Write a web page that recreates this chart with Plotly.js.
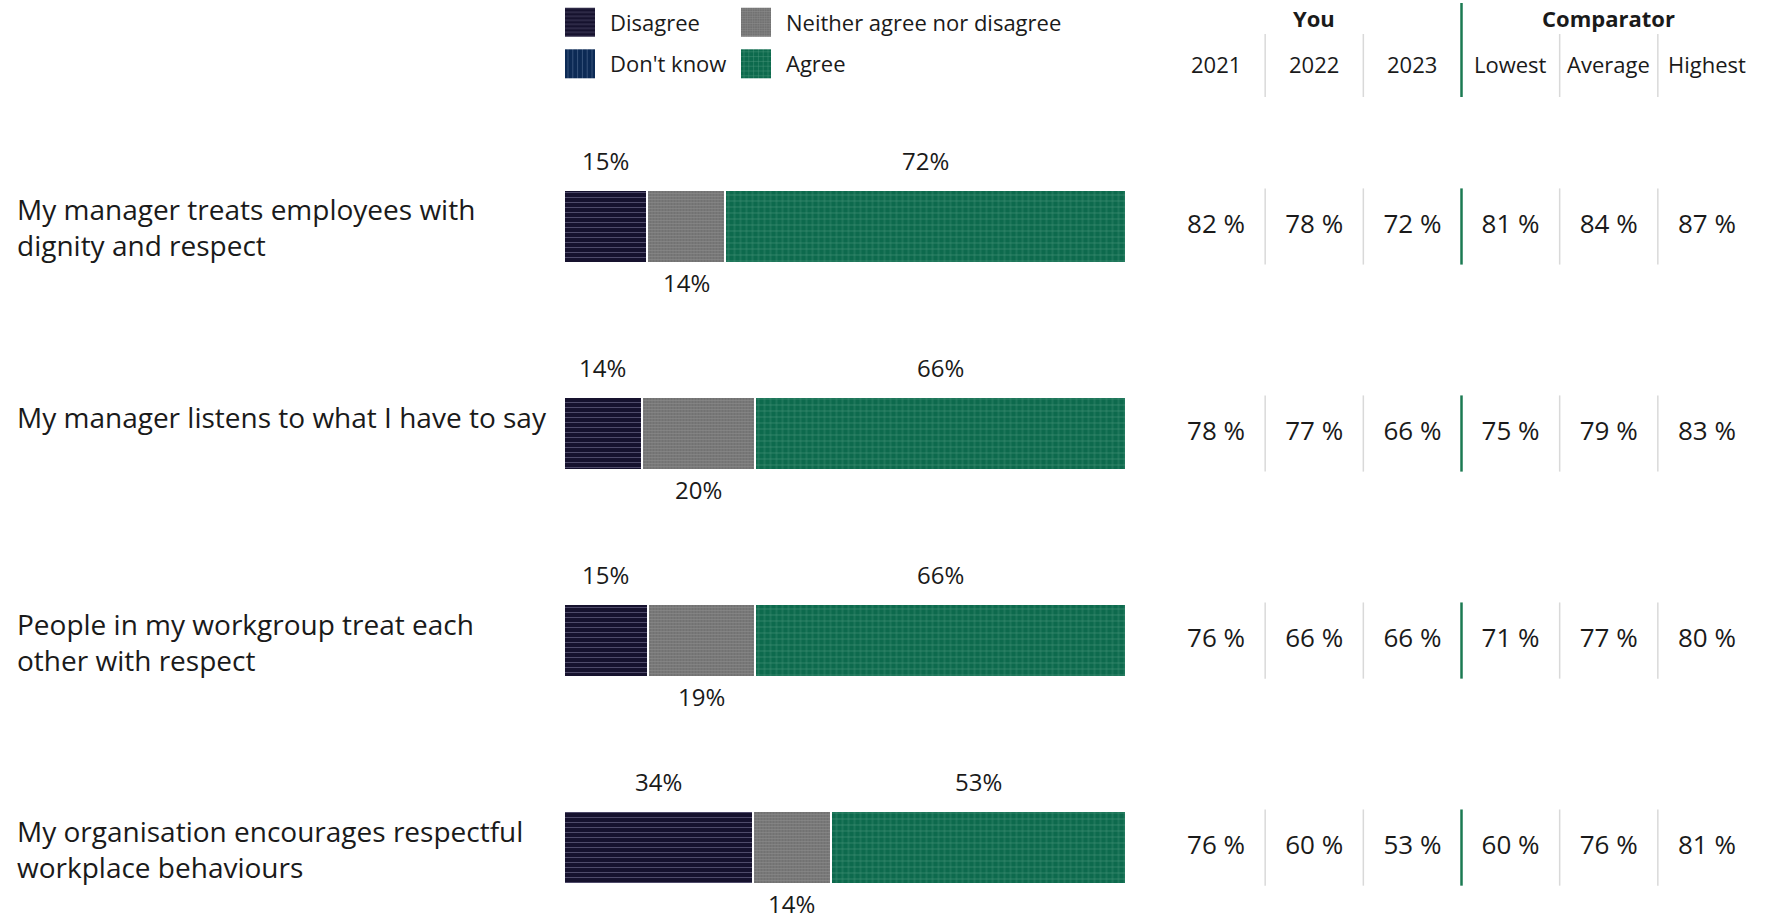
<!DOCTYPE html>
<html><head><meta charset="utf-8">
<script src="https://cdn.plot.ly/plotly-3.0.1.min.js"></script>
<style>html,body{margin:0;padding:0;background:#fff}</style>
</head><body><div id="chart" style="width:1767px;height:919px"></div>
<script>
// ---- data ----
const questions = [
  "My manager treats employees with<br>dignity and respect",
  "My manager listens to what I have to say",
  "People in my workgroup treat each<br>other with respect",
  "My organisation encourages respectful<br>workplace behaviours"
];
const disagree = [15, 14, 15, 34];
const neither  = [14, 20, 19, 14];
const dontKnow = [0, 0, 0, 0];
const agree    = [72, 66, 66, 53];

const columns = ["2021", "2022", "2023", "Lowest", "Average", "Highest"];
const groupHeaders = ["You", "Comparator"];
const groupCenters = ["2022", "Average"];
const y2021   = [82, 78, 76, 76];
const y2022   = [78, 77, 66, 60];
const y2023   = [72, 66, 66, 53];
const lowest  = [81, 75, 71, 60];
const average = [84, 79, 77, 76];
const highest = [87, 83, 80, 81];

// ---- styles ----
const FONT = "Open Sans, sans-serif";
const TXT = "#1a1a1a";
const W = 1767, H = 919;
const BARW = 0.353;

const series = [
  {name: "Disagree", values: disagree, bg: "#16122e", fg: "#8884a6", shape: "-", size: 5, sol: 0.2, legend: "legend", side: "above", lx: 550, ly: 22.5},
  {name: "Neither agree nor disagree", values: neither, bg: "#686868", fg: "#a4a4a4", shape: ".", size: 3, sol: 0.6, legend: "legend2", side: "below", lx: 726, ly: 22.5},
  {name: "Don't know", values: dontKnow, bg: "#0c2a55", fg: "#6a84a8", shape: "|", size: 6, sol: 0.18, legend: "legend3", side: "above", lx: 550, ly: 64},
  {name: "Agree", values: agree, bg: "#0d6a4d", fg: "#8cc2ab", shape: "+", size: 6, sol: 0.17, legend: "legend4", side: "above", lx: 726, ly: 64}
];

const data = series.map(s => ({
  type: "bar", orientation: "h", name: s.name, x: s.values, y: questions,
  width: BARW, legend: s.legend, hoverinfo: "skip", textposition: "none",
  marker: {color: s.bg, line: {color: "#ffffff", width: 2},
           pattern: {shape: s.shape, size: s.size, solidity: s.sol, fgcolor: s.fg, bgcolor: s.bg, fillmode: "overlay"}}
}));

// table values as text trace
const tableCols = [y2021, y2022, y2023, lowest, average, highest];
const tx = [], ty = [], tt = [];
columns.forEach((c, j) => questions.forEach((q, i) => {
  tx.push(c); ty.push(q); tt.push(tableCols[j][i] + " %");
}));
data.push({type: "scatter", mode: "text", x: tx, y: ty, text: tt, xaxis: "x2", yaxis: "y",
  textfont: {family: FONT, size: 26, color: TXT}, showlegend: false, hoverinfo: "skip", cliponaxis: false});

const annotations = [];
// bar labels
questions.forEach((q, i) => {
  const total = series.reduce((a, s) => a + s.values[i], 0);
  let cum = 0;
  series.forEach(s => {
    const v = s.values[i];
    if (v > 0) {
      annotations.push({x: (cum + v / 2) / total * 100, y: q, xref: "x", yref: "y",
        text: v + "%", showarrow: false, yshift: s.side === "above" ? 66 : -56,
        font: {family: FONT, size: 24, color: TXT}});
    }
    cum += v;
  });
  // row label
  annotations.push({x: 15 / W, xref: "paper", xanchor: "left", align: "left", y: q, yref: "y",
    yanchor: "top", yshift: 38, text: q, showarrow: false, font: {family: FONT, size: 28, color: TXT}});
});
// column headers (category index positions)
columns.forEach((c, j) => annotations.push({x: j, xref: "x2", y: 1 - 64 / H, yref: "paper", yanchor: "middle",
  text: c, showarrow: false, font: {family: FONT, size: 22, color: TXT}}));
groupHeaders.forEach((g, k) => annotations.push({x: columns.indexOf(groupCenters[k]), xref: "x2",
  y: 1 - 18 / H, yref: "paper", yanchor: "middle",
  text: "<b>" + g + "</b>", showarrow: false, font: {family: FONT, size: 22, color: TXT}}));

// separators
const shapes = [];
for (let j = 0; j < columns.length - 1; j++) {
  const green = columns[j] === "2023";
  const line = {color: green ? "#1b7a52" : "#d9d9d9", width: green ? 2.5 : 1.5};
  shapes.push({type: "line", xref: "x2", yref: "paper", x0: j + 0.5, x1: j + 0.5,
    y0: 1 - 97 / H, y1: green ? 1 - 3 / H : 1 - 34 / H, line});
  questions.forEach((q, i) => shapes.push({type: "line", xref: "x2", yref: "y", x0: j + 0.5, x1: j + 0.5,
    y0: i - 0.184, y1: i + 0.184, line}));
}

const layout = {
  width: W, height: H, margin: {l: 0, r: 0, t: 0, b: 0},
  paper_bgcolor: "#ffffff", plot_bgcolor: "#ffffff",
  font: {family: FONT, color: TXT},
  barmode: "stack", barnorm: "percent",
  showlegend: true,
  xaxis: {domain: [563.5 / W, 1126 / W], range: [0, 100], visible: false, fixedrange: true},
  xaxis2: {domain: [1167 / W, 1756 / W], type: "category", categoryarray: columns, categoryorder: "array",
           range: [-0.5, 5.5], anchor: "y", visible: false},
  yaxis: {type: "category", categoryarray: questions, categoryorder: "array",
          range: [3.345, -1.094], visible: false},
  annotations, shapes
};
series.forEach(s => {
  layout[s.legend] = {orientation: "h", xanchor: "left", x: s.lx / W, yanchor: "middle", y: 1 - s.ly / H,
    itemwidth: 50, font: {family: FONT, size: 22, color: TXT}, bgcolor: "rgba(0,0,0,0)"};
});

Plotly.newPlot("chart", data, layout, {staticPlot: true, displayModeBar: false}).then(gd => {
  gd.querySelectorAll(".legendpoints path").forEach(p => {
    p.setAttribute("d", "M15,14.5H-15V-14.5H15Z");
    p.style.strokeWidth = "0";
  });
});
</script></body></html>
